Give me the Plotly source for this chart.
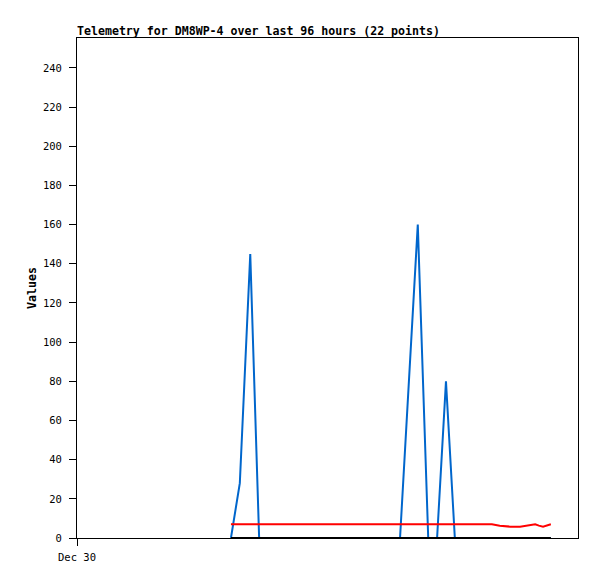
import plotly.graph_objects as go

# hours after Dec 30 00:00
hours = [29.5, 31.2, 33.2, 34.9, 40.0, 50.0, 61.9, 65.3, 67.3, 69.0, 70.7,
         72.4, 76.0, 79.5, 81.0, 83.0, 84.9, 86.5, 87.8, 88.5, 89.3, 90.8]
blue_vals = [0, 28, 145, 0, 0, 0, 0, 160, 0, 0, 80,
             0, 0, 0, 0, 0, 0, 0, 0, 0, 0, 0]
red_vals = [7, 7, 7, 7, 7, 7, 7, 7, 7, 7, 7,
            7, 7, 7, 6.3, 5.8, 5.8, 6.3, 7, 6.3, 5.8, 7]
black_vals = [0] * 22

y_ticks = list(range(0, 241, 20))
x_tick_vals = [0]
x_tick_text = ["Dec 30"]

title_text = "Telemetry for DM8WP-4 over last 96 hours (22 points)"

FONT = "DejaVu Sans Mono"

fig = go.Figure()
fig.add_trace(go.Scatter(x=hours, y=blue_vals, mode="lines",
                         line=dict(color="#0066CC", width=2), showlegend=False))
fig.add_trace(go.Scatter(x=hours, y=red_vals, mode="lines",
                         line=dict(color="#FF0000", width=2), showlegend=False))
fig.add_trace(go.Scatter(x=hours, y=black_vals, mode="lines",
                         line=dict(color="#000000", width=2), showlegend=False))

fig.update_layout(
    width=589, height=571,
    margin=dict(l=69, r=19, t=30, b=41),
    paper_bgcolor="white", plot_bgcolor="white",
    font=dict(family=FONT, size=10, color="black"),
    xaxis=dict(range=[0, 96], tickvals=x_tick_vals, ticktext=x_tick_text,
               ticks="outside", ticklen=7, tickcolor="black",
               ticklabelstandoff=2,
               showline=True, linecolor="black", linewidth=1, mirror=True,
               showgrid=False, zeroline=False,
               tickfont=dict(family=FONT, size=10.5)),
    yaxis=dict(range=[0, 255.3], tickvals=y_ticks,
               ticks="outside", ticklen=7, tickcolor="black",
               ticklabelstandoff=5,
               showline=True, linecolor="black", linewidth=1, mirror=True,
               showgrid=False, zeroline=False,
               tickfont=dict(family=FONT, size=10.5)),
    annotations=[
        dict(text="<b>" + title_text + "</b>", xref="paper", yref="paper",
             x=0, y=1, xanchor="left", yanchor="bottom", yshift=-2,
             xshift=-2,
             showarrow=False, font=dict(family=FONT, size=11.6)),
        dict(text="<b>Values</b>", xref="paper", yref="paper",
             x=0, y=0.5, xanchor="center", yanchor="middle", xshift=-45,
             textangle=-90, showarrow=False, font=dict(family=FONT, size=11.6)),
    ],
)

fig.write_html("out.html")
